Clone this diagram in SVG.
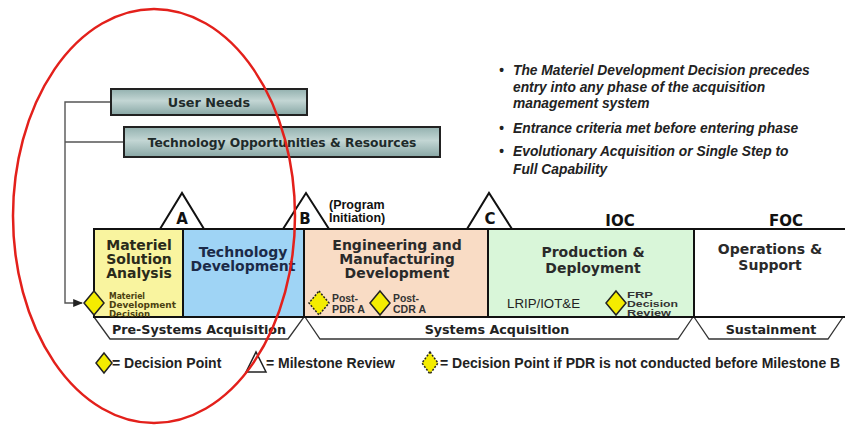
<svg xmlns="http://www.w3.org/2000/svg" width="845" height="425" viewBox="0 0 845 425">
<defs>
<linearGradient id="boxg" x1="0" y1="0" x2="0" y2="1">
<stop offset="0" stop-color="#93b1af"/>
<stop offset="0.45" stop-color="#c3d6d4"/>
<stop offset="1" stop-color="#88a7a5"/>
</linearGradient>
<marker id="arr" viewBox="0 0 10 10" refX="9" refY="5" markerWidth="7" markerHeight="7" orient="auto">
<path d="M0,1 L10,5 L0,9 z" fill="#222"/>
</marker>
<polygon id="dia" points="0,-12 10,0 0,12 -10,0"/>
</defs>
<style>
.hd{font-family:"DejaVu Sans",Verdana,sans-serif;font-weight:bold;}
.ar{font-family:"Liberation Sans",Arial,sans-serif;}
.blt{font-family:"Liberation Sans",Arial,sans-serif;font-weight:bold;font-style:italic;font-size:13.8px;fill:#222;}
.lg{font-family:"Liberation Sans",Arial,sans-serif;font-weight:bold;font-size:14px;fill:#222;}
.ph{stroke:#111;stroke-width:2;}
.tri{fill:#fff;stroke:#111;stroke-width:2;stroke-linejoin:miter;}
.br{fill:#fff;stroke:#333;stroke-width:1.3;}
.dp{fill:#f4ec00;stroke:#222;stroke-width:1.5;}
.dpd{fill:#f4ec00;stroke:#222;stroke-width:1.5;stroke-dasharray:2 1.5;}
.in{fill:url(#boxg);stroke:#222;stroke-width:2;}
.ln{fill:none;stroke:#555;stroke-width:1.4;}
.sm{font-family:"Liberation Sans",Arial,sans-serif;font-weight:bold;fill:#333;}
</style>
<rect width="845" height="425" fill="#fff"/>

<g id="connectors">
<path class="ln" d="M111,102 H65 V303 H82" marker-end="url(#arr)"/>
<path class="ln" d="M124,142 H65"/>
</g>

<g id="user-needs">
<rect class="in" x="111" y="89" width="196" height="26"/>
<text class="hd" x="209" y="107" font-size="12.8" text-anchor="middle" fill="#1e2a2a">User Needs</text>
</g>
<g id="tech-opps">
<rect class="in" x="124" y="127" width="316" height="30"/>
<text class="hd" x="282" y="147" font-size="12.3" text-anchor="middle" fill="#1e2a2a">Technology Opportunities &amp; Resources</text>
</g>

<g id="bullets">
<text class="blt" x="499" y="75">•</text>
<text class="blt" x="513" y="75">The Materiel Development Decision precedes</text>
<text class="blt" x="513" y="92">entry into any phase of the acquisition</text>
<text class="blt" x="513" y="108">management system</text>
<text class="blt" x="499" y="133">•</text>
<text class="blt" x="513" y="133">Entrance criteria met before entering phase</text>
<text class="blt" x="499" y="156">•</text>
<text class="blt" x="513" y="156">Evolutionary Acquisition or Single Step to</text>
<text class="blt" x="513" y="174">Full Capability</text>
</g>

<g id="milestone-a">
<polygon class="tri" points="160,229 182,193 204,229"/>
<text class="hd" x="182" y="224" font-size="15" text-anchor="middle" fill="#111">A</text>
</g>
<g id="milestone-b">
<polygon class="tri" points="283,229 306,193 329,229"/>
<text class="hd" x="305" y="224" font-size="15" text-anchor="middle" fill="#111">B</text>
<text class="ar" x="329" y="209" font-size="12.5" font-weight="bold" fill="#111">(Program</text>
<text class="ar" x="329" y="222" font-size="12.5" font-weight="bold" fill="#111">Initiation)</text>
</g>
<g id="milestone-c">
<polygon class="tri" points="467,229 489,193 512,229"/>
<text class="hd" x="490" y="224" font-size="15" text-anchor="middle" fill="#111">C</text>
</g>
<g id="ioc"><text class="hd" x="620" y="226" font-size="15" text-anchor="middle" fill="#111">IOC</text></g>
<g id="foc"><text class="hd" x="786" y="226" font-size="15" text-anchor="middle" fill="#111">FOC</text></g>

<g id="bracket-pre">
<polygon class="br" points="94,317 110,339 288,339 304,317"/>
<text class="hd" x="199" y="334" font-size="12.7" text-anchor="middle" fill="#222">Pre-Systems Acquisition</text>
</g>
<g id="bracket-sys">
<polygon class="br" points="305,317 320,339 678,339 693,317"/>
<text class="hd" x="497" y="334" font-size="12.7" text-anchor="middle" fill="#222">Systems Acquisition</text>
</g>
<g id="bracket-sust">
<polygon class="br" points="694,317 709,339 828,339 843,317"/>
<text class="hd" x="771" y="334" font-size="12.7" text-anchor="middle" fill="#222">Sustainment</text>
</g>

<g id="phase-msa">
<rect class="ph" x="94" y="229" width="89" height="88" fill="#f9f49f"/>
<text class="hd" x="139" y="250" font-size="14" text-anchor="middle" fill="#2a2a1a">Materiel</text>
<text class="hd" x="139" y="264" font-size="14" text-anchor="middle" fill="#2a2a1a">Solution</text>
<text class="hd" x="139" y="278" font-size="14" text-anchor="middle" fill="#2a2a1a">Analysis</text>
<text class="hd" x="109" y="298.5" font-size="8.6" fill="#4b3f10" textLength="36" lengthAdjust="spacingAndGlyphs">Materiel</text>
<text class="hd" x="109" y="308" font-size="8.6" fill="#4b3f10" textLength="67" lengthAdjust="spacingAndGlyphs">Development</text>
<text class="hd" x="109" y="317" font-size="8.6" fill="#4b3f10" textLength="41" lengthAdjust="spacingAndGlyphs">Decision</text>
</g>
<g id="phase-td">
<rect class="ph" x="183" y="229" width="121" height="88" fill="#9fd4f5"/>
<text class="hd" x="243" y="257" font-size="14" text-anchor="middle" fill="#1c2a48">Technology</text>
<text class="hd" x="243" y="271" font-size="14" text-anchor="middle" fill="#1c2a48">Development</text>
</g>
<g id="phase-emd">
<rect class="ph" x="304" y="229" width="184" height="88" fill="#f9dcc5"/>
<text class="hd" x="397" y="250" font-size="14" text-anchor="middle" fill="#2a2a2a">Engineering and</text>
<text class="hd" x="397" y="264" font-size="14" text-anchor="middle" fill="#2a2a2a">Manufacturing</text>
<text class="hd" x="397" y="278" font-size="14" text-anchor="middle" fill="#2a2a2a">Development</text>
<text class="sm" x="332" y="302" font-size="10" textLength="26" lengthAdjust="spacingAndGlyphs">Post-</text>
<text class="sm" x="332" y="313" font-size="10" textLength="33" lengthAdjust="spacingAndGlyphs">PDR A</text>
<text class="sm" x="393" y="302" font-size="10" textLength="26" lengthAdjust="spacingAndGlyphs">Post-</text>
<text class="sm" x="393" y="313" font-size="10" textLength="33" lengthAdjust="spacingAndGlyphs">CDR A</text>
</g>
<g id="phase-pd">
<rect class="ph" x="488" y="229" width="206" height="88" fill="#d9f6d9"/>
<text class="hd" x="593" y="257" font-size="14" text-anchor="middle" fill="#2a2a2a">Production &amp;</text>
<text class="hd" x="593" y="273" font-size="14" text-anchor="middle" fill="#2a2a2a">Deployment</text>
<text class="ar" x="507" y="308" font-size="12.5" fill="#222" textLength="73" lengthAdjust="spacingAndGlyphs">LRIP/IOT&amp;E</text>
<text class="sm" x="627" y="298" font-size="9.5" textLength="26" lengthAdjust="spacingAndGlyphs">FRP</text>
<text class="sm" x="627" y="307" font-size="9.5" textLength="51" lengthAdjust="spacingAndGlyphs">Decision</text>
<text class="sm" x="627" y="316" font-size="9.5" textLength="44" lengthAdjust="spacingAndGlyphs">Review</text>
</g>
<g id="phase-os">
<rect class="ph" x="694" y="229" width="160" height="88" fill="#fff"/>
<text class="hd" x="770" y="254" font-size="14" text-anchor="middle" fill="#2a2a2a">Operations &amp;</text>
<text class="hd" x="770" y="270" font-size="14" text-anchor="middle" fill="#2a2a2a">Support</text>
</g>

<g id="decision-mdd"><use href="#dia" x="94" y="303" class="dp"/></g>
<g id="decision-postpdr"><use href="#dia" x="319" y="303" class="dpd"/></g>
<g id="decision-postcdr"><use href="#dia" x="380" y="303" class="dp"/></g>
<g id="decision-frp"><use href="#dia" x="616" y="303" class="dp"/></g>

<g id="legend">
<polygon points="104,353 112,363 104,373 96,363" class="dp"/>
<text class="lg" x="112" y="368">= Decision Point</text>
<polygon points="246,372 256,352 266,372" fill="none" stroke="#222" stroke-width="1.5"/>
<text class="lg" x="266" y="368">= Milestone Review</text>
<polygon points="430,352 438,363 430,374 422,363" class="dpd"/>
<text class="lg" x="440" y="368">= Decision Point if PDR is not conducted before Milestone B</text>
</g>

<g id="highlight">
<ellipse cx="154" cy="216" rx="141" ry="207" fill="none" stroke="#e3201b" stroke-width="2.5"/>
</g>
</svg>
